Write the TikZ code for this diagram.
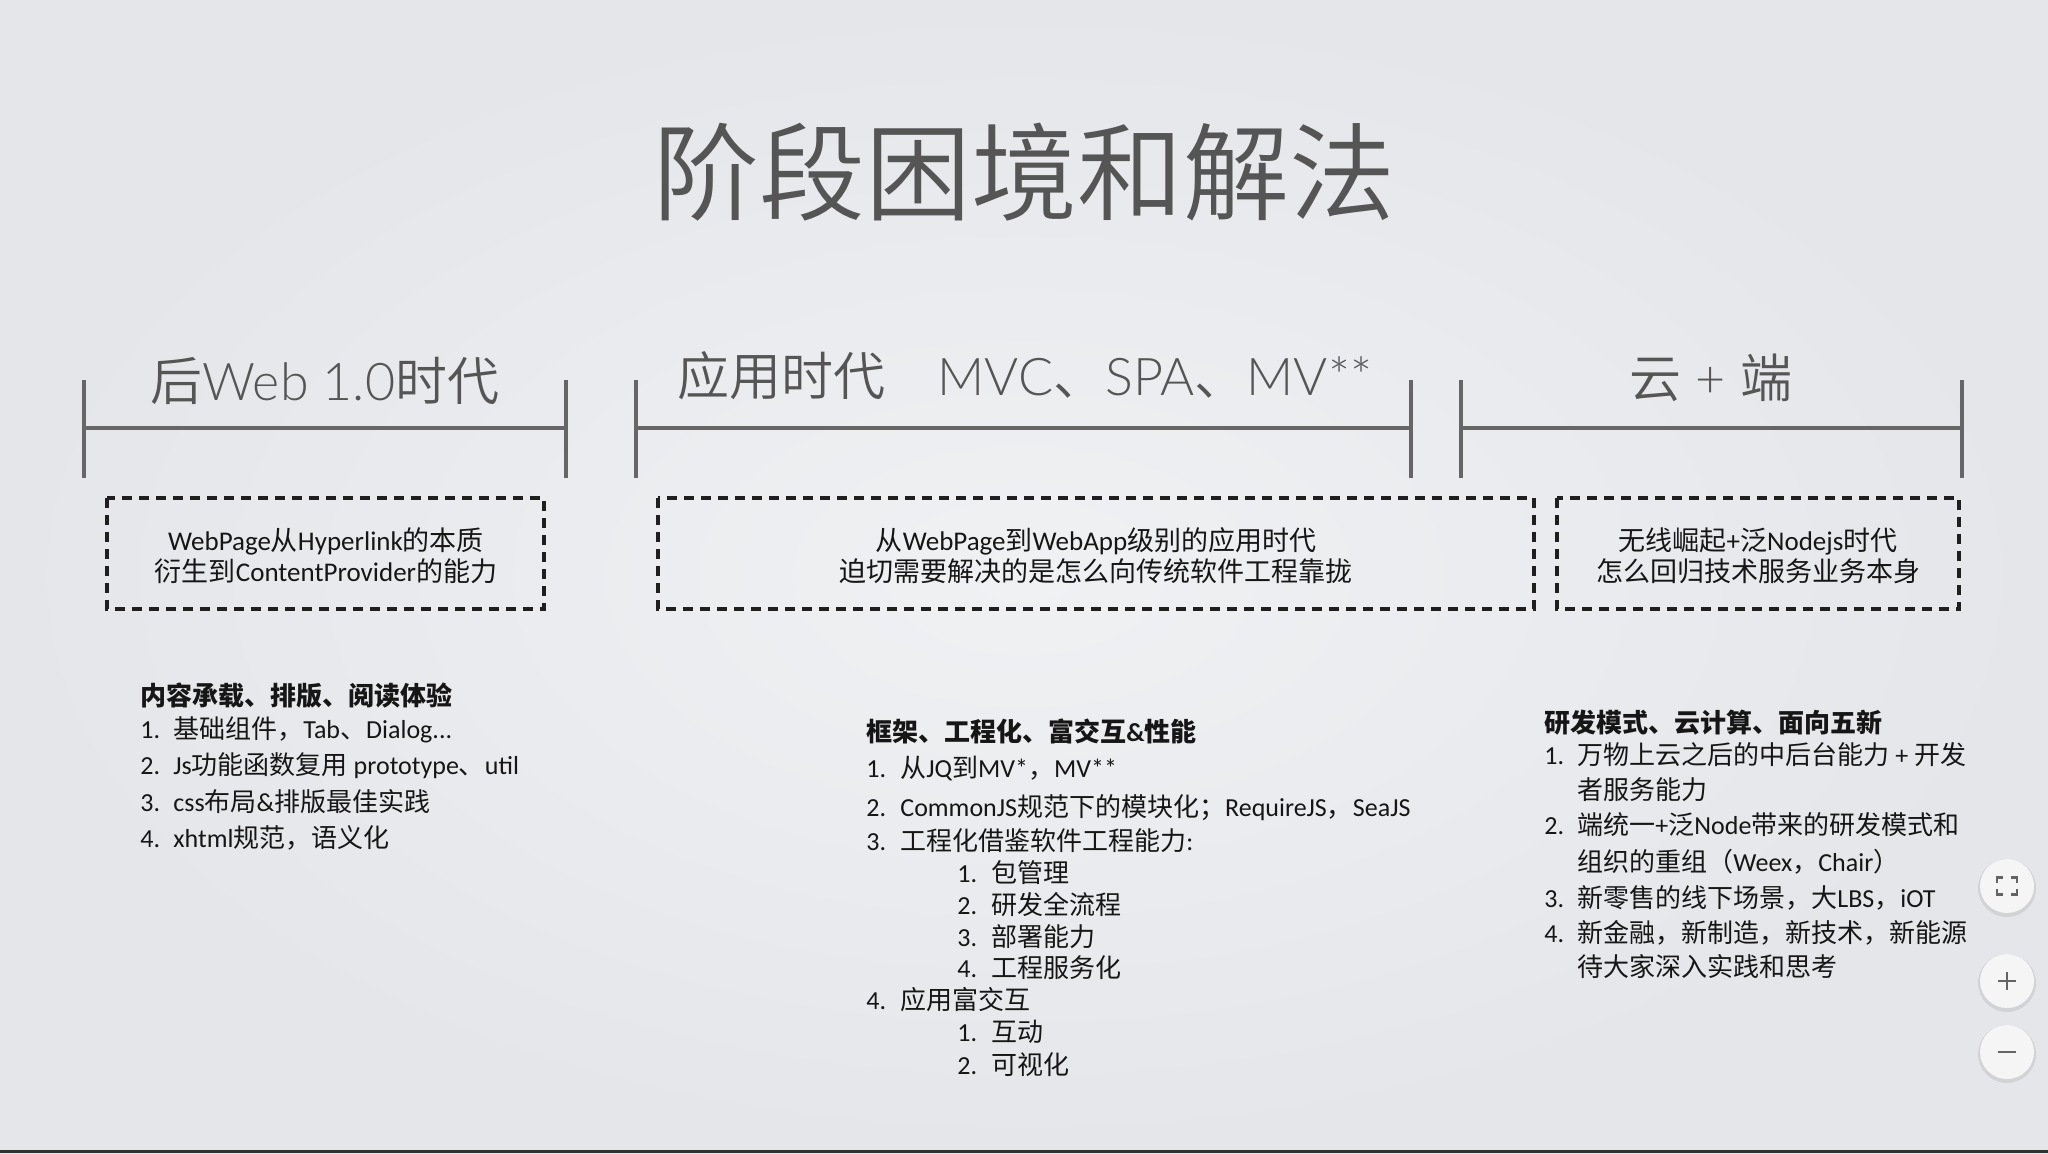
\documentclass[tikz,border=0pt]{standalone}
\usepackage{fontspec}
\setmainfont{Carlito}
\newfontfamily\latf{Carlito}
\newfontfamily\cjkf{Noto Sans CJK SC}
\IfFontExistsTF{Noto Sans CJK SC DemiLight}{\newfontfamily\lightf{Noto Sans CJK SC DemiLight}}{%
  \IfFontExistsTF{Noto Sans CJK SC Light}{\newfontfamily\lightf{Noto Sans CJK SC Light}}{\newfontfamily\lightf{Noto Sans CJK SC}}}
\IfFontExistsTF{Lato Light}{\newfontfamily\latlf{Lato Light}}{\newfontfamily\latlf{Lato}}
% automatic switching between Latin and CJK fonts
\XeTeXinterchartokenstate=1
\newXeTeXintercharclass\mycjk
\newcount\mycc
\def\setcls#1#2{\mycc=#1\relax\loop\XeTeXcharclass\mycc=\mycjk\relax\ifnum\mycc<#2\advance\mycc by 1\repeat}
\setcls{"3000}{"303F}
\setcls{"4E00}{"9FFF}
\setcls{"FF00}{"FFEF}
\def\tocjk{\cjkf}
\def\tolat{\latf}
\XeTeXinterchartoks 0 \mycjk = {\tocjk}
\XeTeXinterchartoks 4095 \mycjk = {\tocjk}
\XeTeXinterchartoks \mycjk 0 = {\tolat}
\XeTeXinterchartoks \mycjk 4095 = {\tolat}
\newcommand\lightmode{\def\tocjk{\lightf}\def\tolat{\latlf}\tolat}
\newcommand\normmode{\def\tocjk{\cjkf}\def\tolat{\latf}\tolat}
\definecolor{bgo}{RGB}{228,230,234}
\definecolor{bgi}{RGB}{240,241,243}
\definecolor{ttlc}{RGB}{85,85,85}
\definecolor{brk}{RGB}{102,102,102}
\definecolor{txt}{RGB}{22,22,22}
\definecolor{btn}{RGB}{245,245,245}
\definecolor{ico}{RGB}{100,100,100}
\definecolor{barc}{RGB}{50,50,50}
\tikzset{
  ttl/.style={font=\lightmode\fontsize{53pt}{60pt}\selectfont, text=ttlc, inner sep=0, text height=46.6pt, text depth=6.4pt},
  hdr/.style={font=\lightmode\fontsize{26pt}{30pt}\selectfont, text=ttlc, inner sep=0, text height=22.9pt, text depth=3.1pt},
  bxt/.style={font=\normmode\fontsize{13.5pt}{16pt}\selectfont, text=txt, inner sep=0, text height=11.9pt, text depth=1.6pt},
  lst/.style={anchor=west, font=\normmode\fontsize{13pt}{16pt}\selectfont, text=txt, inner sep=0, text height=11.44pt, text depth=1.56pt},
  lsth/.style={lst, font=\normmode\fontsize{13pt}{16pt}\selectfont\bfseries},
  bline/.style={draw=brk, line width=2pt},
  dbox/.style={draw=black!88, line width=2pt, dash pattern=on 5pt off 3.5pt},
  btnc/.style={fill=btn},
  icon/.style={draw=ico, line width=1.3pt}
}
\begin{document}
\begin{tikzpicture}[x=0.5pt,y=-0.5pt]
\useasboundingbox (0,0) rectangle (2048,1153);
\shade[inner color=bgi, outer color=bgo] (0,0) rectangle (2048,1153);
\fill[barc] (0,1150) rectangle (2048,1153);

% title
\node[ttl] (title) at (1024,172) {阶段困境和解法};

% headers
\node[hdr] (h1) at (325,381) {后Web 1.0时代};
\node[hdr] (h2) at (1025,376) {应用时代　MVC、SPA、MV**};
\node[hdr] (h3) at (1711,378) {云 + 端};

% brackets
\draw[bline] (84,380) -- (84,478) (84,428) -- (566,428) (566,380) -- (566,478);
\draw[bline] (636,380) -- (636,478) (636,428) -- (1411,428) (1411,380) -- (1411,478);
\draw[bline] (1461,380) -- (1461,478) (1461,428) -- (1962,428) (1962,380) -- (1962,478);

% dashed boxes
\draw[dbox] (107,498) rectangle (544,609);
\draw[dbox] (658,498) rectangle (1534,609);
\draw[dbox] (1557,498) rectangle (1959,609);

\node[bxt] (b1a) at (326,540) {WebPage从Hyperlink的本质};
\node[bxt] (b1b) at (326,571) {衍生到ContentProvider的能力};
\node[bxt] (b2a) at (1096,540) {从WebPage到WebApp级别的应用时代};
\node[bxt] (b2b) at (1096,571) {迫切需要解决的是怎么向传统软件工程靠拢};
\node[bxt] (b3a) at (1758,540) {无线崛起+泛Nodejs时代};
\node[bxt] (b3b) at (1758,571) {怎么回归技术服务业务本身};

% list 1
\node[lsth] (l1h) at (140,696) {内容承载、排版、阅读体验};
\node[lst] (l1n1) at (140,729) {1.};
\node[lst] (l1t1) at (173,729) {基础组件，Tab、Dialog...};
\node[lst] (l1n2) at (140,765) {2.};
\node[lst] (l1t2) at (173,765) {Js功能函数复用 prototype、util};
\node[lst] (l1n3) at (140,802) {3.};
\node[lst] (l1t3) at (173,802) {css布局\&排版最佳实践};
\node[lst] (l1n4) at (140,838) {4.};
\node[lst] (l1t4) at (173,838) {xhtml规范，语义化};

% list 2
\node[lsth] (l2h) at (866,732) {框架、工程化、富交互\&性能};
\node[lst] (l2n1) at (866,768) {1.};
\node[lst] (l2t1) at (900,768) {从JQ到MV*，MV**};
\node[lst] (l2n2) at (866,807) {2.};
\node[lst] (l2t2) at (900,807) {CommonJS规范下的模块化；RequireJS，SeaJS};
\node[lst] (l2n3) at (866,841) {3.};
\node[lst] (l2t3) at (900,841) {工程化借鉴软件工程能力:};
\node[lst] (l2s1n) at (957,873) {1.};
\node[lst] (l2s1t) at (991,873) {包管理};
\node[lst] (l2s2n) at (957,905) {2.};
\node[lst] (l2s2t) at (991,905) {研发全流程};
\node[lst] (l2s3n) at (957,937) {3.};
\node[lst] (l2s3t) at (991,937) {部署能力};
\node[lst] (l2s4n) at (957,968) {4.};
\node[lst] (l2s4t) at (991,968) {工程服务化};
\node[lst] (l2n4) at (866,1000) {4.};
\node[lst] (l2t4) at (900,1000) {应用富交互};
\node[lst] (l2s5n) at (957,1032) {1.};
\node[lst] (l2s5t) at (991,1032) {互动};
\node[lst] (l2s6n) at (957,1065) {2.};
\node[lst] (l2s6t) at (991,1065) {可视化};

% list 3
\node[lsth] (l3h) at (1544,723) {研发模式、云计算、面向五新};
\node[lst] (l3n1) at (1544,755) {1.};
\node[lst] (l3t1) at (1577,755) {万物上云之后的中后台能力 + 开发};
\node[lst] (l3t1b) at (1577,790) {者服务能力};
\node[lst] (l3n2) at (1544,825) {2.};
\node[lst] (l3t2) at (1577,825) {端统一+泛Node带来的研发模式和};
\node[lst] (l3t2b) at (1577,862) {组织的重组（Weex，Chair）};
\node[lst] (l3n3) at (1544,898) {3.};
\node[lst] (l3t3) at (1577,898) {新零售的线下场景，大LBS，iOT};
\node[lst] (l3n4) at (1544,933) {4.};
\node[lst] (l3t4) at (1577,933) {新金融，新制造，新技术，新能源};
\node[lst] (l3t4b) at (1577,967) {待大家深入实践和思考};

% buttons
\foreach \cy in {886,981,1052} {
  \fill[black, opacity=0.08] (2007,\cy+2) circle[radius=14.5pt];
  \fill[btnc] (2007,\cy) circle[radius=13.5pt];
}
\draw[icon] (1997,883) -- (1997,877.5) -- (2003,877.5);
\draw[icon] (2011,877.5) -- (2017,877.5) -- (2017,883);
\draw[icon] (1997,889) -- (1997,894.5) -- (2003,894.5);
\draw[icon] (2011,894.5) -- (2017,894.5) -- (2017,889);
\draw[icon] (1998,981) -- (2016,981) (2007,972) -- (2007,990);
\draw[icon] (1998,1052) -- (2016,1052);
\end{tikzpicture}
\end{document}
